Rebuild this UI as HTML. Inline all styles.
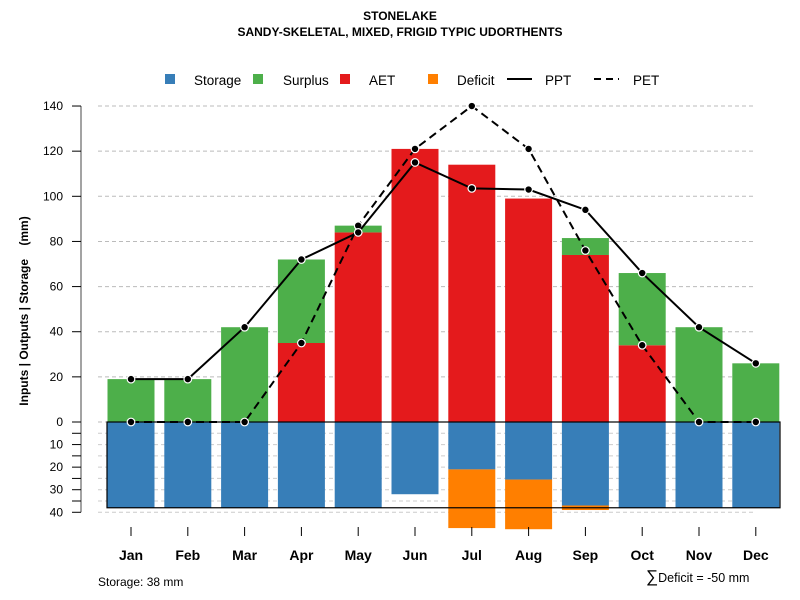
<!DOCTYPE html>
<html><head><meta charset="utf-8">
<style>
html,body{margin:0;padding:0;background:#fff;}
svg{display:block;font-family:"Liberation Sans",Arial,sans-serif;}
</style></head>
<body>
<svg id="chart" width="800" height="600" viewBox="0 0 800 600">
  <text x="400" y="20" text-anchor="middle" font-size="12" font-weight="bold">STONELAKE</text>
  <text x="400" y="36" text-anchor="middle" font-size="12" font-weight="bold">SANDY-SKELETAL, MIXED, FRIGID TYPIC UDORTHENTS</text>
  <g id="legend">
    <rect x="165" y="74" width="10" height="10" fill="#377eb8"/>
    <text x="194" y="85" font-size="13.5">Storage</text>
    <rect x="253" y="74" width="10" height="10" fill="#4daf4a"/>
    <text x="283" y="85" font-size="13.5">Surplus</text>
    <rect x="340" y="74" width="10" height="10" fill="#e41a1c"/>
    <text x="369" y="85" font-size="13.5">AET</text>
    <rect x="428" y="74" width="10" height="10" fill="#ff7f00"/>
    <text x="457" y="85" font-size="13.5">Deficit</text>
    <line x1="507" y1="79" x2="532" y2="79" stroke="#000" stroke-width="2"/>
    <text x="545" y="85" font-size="13.5">PPT</text>
    <line x1="594" y1="79" x2="619" y2="79" stroke="#000" stroke-width="2" stroke-dasharray="7,5"/>
    <text x="633" y="85" font-size="13.5">PET</text>
  </g>
  <g id="grid"></g>
  <g id="bars"></g>
  <g id="lines"></g>
  <g id="axes"></g>
  <text transform="translate(28,311) rotate(-90)" text-anchor="middle" font-size="12" font-weight="bold" xml:space="preserve">Inputs | Outputs | Storage    (mm)</text>
  <text x="98" y="586" font-size="12">Storage: 38 mm</text>
  <text x="646" y="582" font-size="12.5"><tspan font-size="17">∑</tspan>Deficit = -50 mm</text>
</svg>
<script>
const months = ["Jan","Feb","Mar","Apr","May","Jun","Jul","Aug","Sep","Oct","Nov","Dec"];
const aet = [0,0,0,35,84,121,114,99,74,34,0,0];
const surplus = [19,19,42,37,3,0,0,0,7.5,32,42,26];
const storage = [38,38,38,38,38,32,21,25.5,37,38,38,38];
const deficit = [0,0,0,0,0,0,26,22,2,0,0,0];
const ppt = [19,19,42,72,84,115,103.5,103,94,66,42,26];
const pet = [0,0,0,35,87,121,140,121,76,34,0,0];
const posTicks = [0,20,40,60,80,100,120,140];
const negTicks = [10,20,30,40];
const storageCap = 38;

const NS = "http://www.w3.org/2000/svg";
const y0 = 422, pxPerUnit = 2.257;
function yScale(v){ return y0 - v*pxPerUnit; }
function xScale(i){ return 131 + i*56.8; }
const barW = 47;
function mk(tag, attrs, parent){
  const el = document.createElementNS(NS, tag);
  for (const k in attrs) el.setAttribute(k, attrs[k]);
  parent.appendChild(el);
  return el;
}
const grid = document.getElementById('grid');
const bars = document.getElementById('bars');
const lines = document.getElementById('lines');
const axes = document.getElementById('axes');

posTicks.forEach(t => {
  const g = mk('line', {x1:98, x2:756, y1:yScale(t), y2:yScale(t), stroke:'#bbb', 'stroke-dasharray':'4,3'}, grid);
  
  
});
for (let v = 5; v <= 40; v += 5) {
  const g = mk('line', {x1:98, x2:756, y1:yScale(-v), y2:yScale(-v), stroke:'#ccc', 'stroke-dasharray':'4,3'}, grid);
  
  
}

months.forEach((m, i) => {
  const x = xScale(i) - barW/2;
  const s = mk('rect', {x:x, y:y0, width:barW, height:storage[i]*pxPerUnit, fill:'#377eb8'}, bars);
  
  
  if (deficit[i] > 0) {
    const d = mk('rect', {x:x, y:yScale(-storage[i]), width:barW, height:deficit[i]*pxPerUnit, fill:'#ff7f00'}, bars);
    
    
  }
  if (aet[i] > 0) {
    const a = mk('rect', {x:x, y:yScale(aet[i]), width:barW, height:aet[i]*pxPerUnit, fill:'#e41a1c'}, bars);
    
    
  }
  if (surplus[i] > 0) {
    const sp = mk('rect', {x:x, y:yScale(aet[i]+surplus[i]), width:barW, height:surplus[i]*pxPerUnit, fill:'#4daf4a'}, bars);
    
    
  }
});
const sb = mk('rect', {x:107, y:y0, width:673, height:storageCap*pxPerUnit, fill:'none', stroke:'#000', 'stroke-width':1.2}, bars);



function series(vals, dash, name){
  const pts = vals.map((v,i) => xScale(i) + ',' + yScale(v)).join(' ');
  const pl = mk('polyline', {points:pts, fill:'none', stroke:'#000', 'stroke-width':2, 'stroke-dasharray':dash}, lines);
  
  
  vals.forEach((v,i) => {
    const c = mk('circle', {cx:xScale(i), cy:yScale(v), r:3.8, fill:'#000', stroke:'#fff', 'stroke-width':1.2}, lines);
    
    
  });
}
series(pet, '8,5', 'pet');
series(ppt, 'none', 'ppt');

const ax = mk('line', {x1:81, x2:81, y1:yScale(140), y2:yScale(-40), stroke:'#666', 'stroke-width':1.2}, axes);


posTicks.forEach(t => {
  const tk = mk('line', {x1:72, x2:81, y1:yScale(t), y2:yScale(t), stroke:'#000'}, axes);
  
  
  const lb = mk('text', {x:63, y:yScale(t)+4, 'text-anchor':'end', 'font-size':12}, axes);
  lb.textContent = t;
  
  
});
for (let v = 5; v <= 40; v += 5) {
  const tk = mk('line', {x1:72, x2:81, y1:yScale(-v), y2:yScale(-v), stroke:'#000'}, axes);
  
  
}
negTicks.forEach(t => {
  const lb = mk('text', {x:63, y:yScale(-t)+4, 'text-anchor':'end', 'font-size':12}, axes);
  lb.textContent = t;
  
  
});
months.forEach((m,i) => {
  const tk = mk('line', {x1:xScale(i), x2:xScale(i), y1:527, y2:536, stroke:'#000'}, axes);
  
  
  const lb = mk('text', {x:xScale(i), y:560, 'text-anchor':'middle', 'font-size':14, 'font-weight':'bold'}, axes);
  lb.textContent = m;
  
  
});
</script>
</body></html>
